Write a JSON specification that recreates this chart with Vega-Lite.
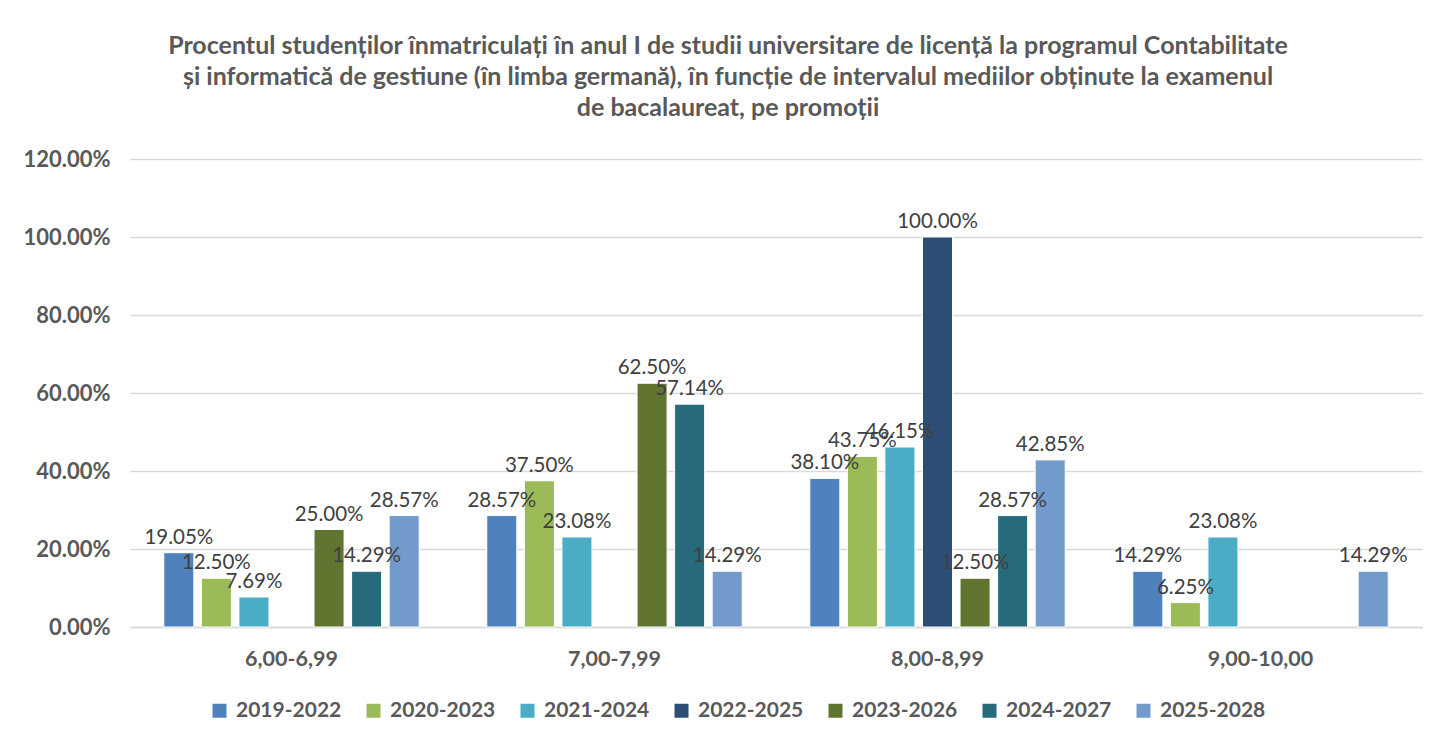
{
  "$schema": "https://vega.github.io/schema/vega-lite/v6.json",
  "autosize": {"type": "none"},
  "width": 1292,
  "height": 468,
  "padding": {"left": 130, "top": 159, "right": 21, "bottom": 115},
  "background": "white",
  "title": {
    "text": [
      "Procentul studenților înmatriculați în anul I de studii universitare de licență la programul Contabilitate",
      "și informatică de gestiune (în limba germană), în funcție de intervalul mediilor obținute la examenul",
      "de bacalaureat, pe promoții"
    ],
    "font": "Lato",
    "fontSize": 25,
    "fontWeight": "bold",
    "color": "#595959",
    "lineHeight": 31,
    "anchor": "middle",
    "frame": "group",
    "dx": -48,
    "offset": 27
  },
  "data": {
    "values": [
      {"interval": "6,00-6,99", "promotie": "2019-2022", "valoare": 0.1905},
      {"interval": "6,00-6,99", "promotie": "2020-2023", "valoare": 0.125},
      {"interval": "6,00-6,99", "promotie": "2021-2024", "valoare": 0.0769},
      {"interval": "6,00-6,99", "promotie": "2023-2026", "valoare": 0.25},
      {"interval": "6,00-6,99", "promotie": "2024-2027", "valoare": 0.1429},
      {"interval": "6,00-6,99", "promotie": "2025-2028", "valoare": 0.2857},
      {"interval": "7,00-7,99", "promotie": "2019-2022", "valoare": 0.2857},
      {"interval": "7,00-7,99", "promotie": "2020-2023", "valoare": 0.375},
      {"interval": "7,00-7,99", "promotie": "2021-2024", "valoare": 0.2308},
      {"interval": "7,00-7,99", "promotie": "2023-2026", "valoare": 0.625},
      {"interval": "7,00-7,99", "promotie": "2024-2027", "valoare": 0.5714},
      {"interval": "7,00-7,99", "promotie": "2025-2028", "valoare": 0.1429},
      {"interval": "8,00-8,99", "promotie": "2019-2022", "valoare": 0.381},
      {"interval": "8,00-8,99", "promotie": "2020-2023", "valoare": 0.4375},
      {"interval": "8,00-8,99", "promotie": "2021-2024", "valoare": 0.4615},
      {"interval": "8,00-8,99", "promotie": "2022-2025", "valoare": 1.0},
      {"interval": "8,00-8,99", "promotie": "2023-2026", "valoare": 0.125},
      {"interval": "8,00-8,99", "promotie": "2024-2027", "valoare": 0.2857},
      {"interval": "8,00-8,99", "promotie": "2025-2028", "valoare": 0.4285},
      {"interval": "9,00-10,00", "promotie": "2019-2022", "valoare": 0.1429},
      {"interval": "9,00-10,00", "promotie": "2020-2023", "valoare": 0.0625},
      {"interval": "9,00-10,00", "promotie": "2021-2024", "valoare": 0.2308},
      {"interval": "9,00-10,00", "promotie": "2025-2028", "valoare": 0.1429}
    ]
  },
  "encoding": {
    "x": {
      "field": "interval",
      "type": "nominal",
      "sort": null,
      "title": null,
      "scale": {"paddingInner": 0.186, "paddingOuter": 0.093},
      "axis": {
        "labelAngle": 0,
        "labelFont": "Lato",
        "labelFontSize": 21.5,
        "labelFontWeight": "bold",
        "labelColor": "#595959",
        "labelPadding": 21,
        "ticks": false,
        "domainColor": "#d9d9d9",
        "domainWidth": 1.5
      }
    },
    "xOffset": {
      "field": "promotie",
      "type": "nominal",
      "scale": {
        "domain": ["2019-2022", "2020-2023", "2021-2024", "2022-2025", "2023-2026", "2024-2027", "2025-2028"],
        "paddingInner": 0.2,
        "paddingOuter": 0.1
      }
    },
    "y": {
      "field": "valoare",
      "type": "quantitative",
      "title": null,
      "scale": {"domain": [0, 1.2], "nice": false},
      "axis": {
        "values": [0, 0.2, 0.4, 0.6, 0.8, 1.0, 1.2],
        "format": ".2%",
        "labelFont": "Lato",
        "labelFontSize": 22,
        "labelFontWeight": "bold",
        "labelColor": "#595959",
        "labelPadding": 20,
        "ticks": false,
        "domain": false,
        "gridColor": "#d9d9d9",
        "gridWidth": 1.5
      }
    }
  },
  "layer": [
    {
      "mark": {"type": "bar", "stroke": "white", "strokeWidth": 1},
      "encoding": {
        "color": {
          "field": "promotie",
          "type": "nominal",
          "scale": {
            "domain": ["2019-2022", "2020-2023", "2021-2024", "2022-2025", "2023-2026", "2024-2027", "2025-2028"],
            "range": ["#4F81BD", "#9BBB59", "#4BACC6", "#2C4D75", "#5F7530", "#276A7C", "#729ACA"]
          },
          "legend": {
            "title": null,
            "orient": "none",
            "direction": "horizontal",
            "legendX": 79,
            "legendY": 541,
            "symbolType": "square",
            "symbolSize": 196,
            "symbolStrokeWidth": 0,
            "labelFont": "Lato",
            "labelFontSize": 21,
            "labelFontWeight": "bold",
            "labelColor": "#595959",
            "labelOffset": 6,
            "columnPadding": 21
          }
        }
      }
    },
    {
      "mark": {"type": "text", "baseline": "bottom", "dy": -5, "font": "Lato", "fontSize": 20.5, "color": "#404040"},
      "encoding": {
        "text": {"field": "valoare", "type": "quantitative", "format": ".2%"}
      }
    }
  ],
  "config": {"view": {"stroke": null}}
}
